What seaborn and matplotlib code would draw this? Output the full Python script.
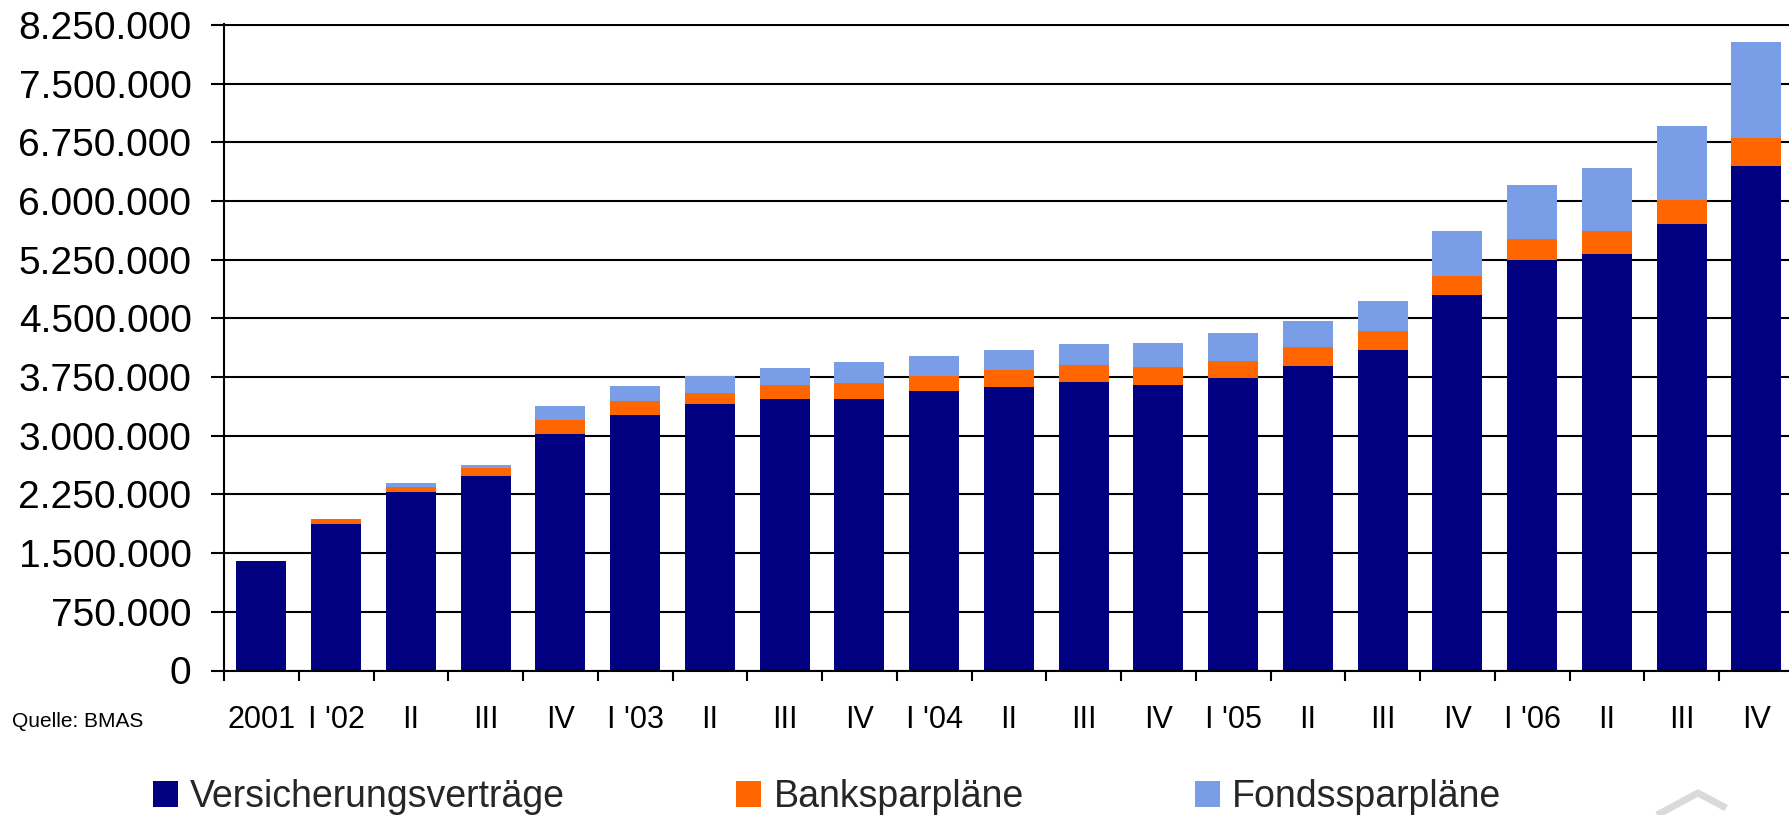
import numpy as np
import pandas as pd
import matplotlib
matplotlib.use("Agg")
import matplotlib.pyplot as plt
import seaborn as sns
from matplotlib.ticker import FuncFormatter
from matplotlib.patches import Patch
from matplotlib.lines import Line2D

# ---------------- data ----------------
periods = ["2001", "I '02", "II '02", "III '02", "IV '02", "I '03", "II '03", "III '03", "IV '03",
           "I '04", "II '04", "III '04", "IV '04", "I '05", "II '05", "III '05", "IV '05",
           "I '06", "II '06", "III '06", "IV '06"]
tick_labels = ["2001", "I '02", "II", "III", "IV", "I '03", "II", "III", "IV", "I '04", "II", "III", "IV",
               "I '05", "II", "III", "IV", "I '06", "II", "III", "IV"]
versicherung = [1400000, 1872000, 2285000, 2491000, 3025000, 3260000, 3401000, 3465000, 3465000,
                3568000, 3619000, 3683000, 3652000, 3740000, 3893000, 4099000, 4796000,
                5248000, 5321000, 5706000, 6450000]
bank = [0, 67000, 59000, 93000, 171000, 184000, 145000, 184000, 210000,
        192000, 218000, 223000, 225000, 213000, 246000, 239000, 246000,
        266000, 292000, 306000, 352000]
fonds = [0, 0, 53000, 46000, 179000, 188000, 219000, 214000, 265000,
         257000, 257000, 265000, 314000, 358000, 332000, 385000, 578000,
         691000, 811000, 950000, 1229000]
series_names = ["Versicherungsverträge", "Banksparpläne", "Fondssparpläne"]
y_ticks = list(range(0, 8250001, 750000))

navy = "#000080"
orange = "#FF6600"
lightblue = "#7A9DE8"

df = pd.DataFrame({"period": periods, "versicherung": versicherung, "bank": bank, "fonds": fonds})
df["bank_cum"] = df["versicherung"] + df["bank"]
df["total"] = df["bank_cum"] + df["fonds"]

# ---------------- figure ----------------
sns.set_style("white")
plt.rcParams['font.family'] = ['Liberation Sans', 'DejaVu Sans']

W, H = 1789, 815
fig = plt.figure(figsize=(W / 100, H / 100), dpi=100)
ppu = 645.6 / 8250000
ytop = 8262000
ax = fig.add_axes([224 / W, (H - 670.5) / H, 21 * 74.75 / W, ytop * ppu / H])

for col, color in [("total", lightblue), ("bank_cum", orange), ("versicherung", navy)]:
    sns.barplot(data=df, x="period", y=col, order=periods, color=color, width=0.67,
                errorbar=None, ax=ax, saturation=1, linewidth=0, zorder=3)

ax.set_xlim(-0.5, 20.5)
ax.set_ylim(0, ytop)
ax.set_xlabel("")
ax.set_ylabel("")

ax.set_yticks(y_ticks)
ax.yaxis.set_major_formatter(FuncFormatter(lambda v, p: f"{int(round(v)):,}".replace(",", ".")))
ax.yaxis.grid(True, color="black", linewidth=1.5)
ax.xaxis.grid(False)
ax.set_axisbelow(True)
ax.tick_params(axis="y", which="major", length=9.4, width=1.5, pad=14, labelsize=28,
               color="black", labelcolor="black", direction="out", left=True)

ax.set_xticks(range(len(periods)))
ax.set_xticklabels(tick_labels)
ax.set_xticks(np.arange(-0.5, len(periods), 1.0), minor=True)
ax.tick_params(axis="x", which="major", length=0, pad=25, labelsize=22, labelcolor="black")
ax.tick_params(axis="x", which="minor", length=7.2, width=1.5, color="black", direction="out", bottom=True)

for s in ["top", "right"]:
    ax.spines[s].set_visible(False)
for s in ["left", "bottom"]:
    ax.spines[s].set_visible(True)
    ax.spines[s].set_color("black")
    ax.spines[s].set_linewidth(1.5)
    ax.spines[s].set_zorder(4)

handles = [Patch(facecolor=navy, edgecolor="none"),
           Patch(facecolor=orange, edgecolor="none"),
           Patch(facecolor=lightblue, edgecolor="none")]
fig.legend(handles, series_names, loc="lower left", bbox_to_anchor=(153 / W, 0.0), ncol=3,
           frameon=False, fontsize=27, handlelength=0.667, handleheight=0.667,
           handletextpad=0.32, columnspacing=4.57, borderpad=0, borderaxespad=0)

fig.text(11.7 / W, (H - 726.7) / H, "Quelle: BMAS", fontsize=15, va="baseline", ha="left", color="black")

# faint watermark fragment in the bottom-right corner
wx = np.array([1657, 1698, 1726]) / W
wy = (H - np.array([815, 793, 808])) / H
fig.add_artist(Line2D(wx, wy, transform=fig.transFigure, color="#dadada", lw=5.0,
                      solid_joinstyle="miter", solid_capstyle="butt"))

fig.savefig("out.png", dpi=100)
